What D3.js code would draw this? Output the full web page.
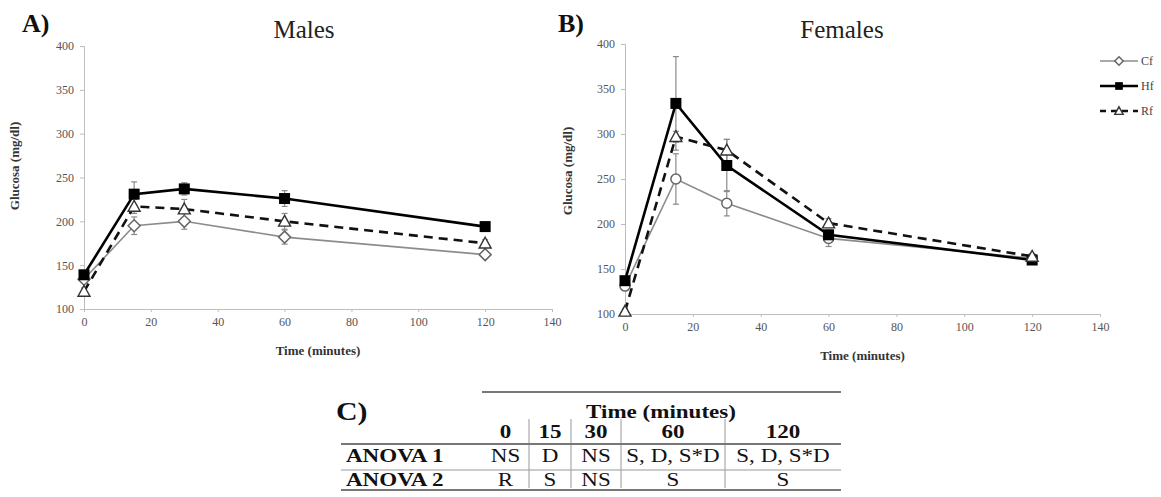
<!DOCTYPE html>
<html>
<head>
<meta charset="utf-8">
<script src="https://cdn.jsdelivr.net/npm/d3@7"></script>
<style>
  body { margin: 0; background: #fff; }
  svg, svg text { font-family: "Liberation Serif", "Times New Roman", Times, serif !important; }
</style>
</head>
<body>
<svg id="chart" width="1161" height="497"></svg>
<script>
// sampling times (minutes)
const times = [0, 15, 30, 60, 120];

// Males (panel A)
const maleCf = [134, 195, 200, 182, 162];
const maleHf = [139, 231, 237, 226, 194];
const maleRf = [120, 217, 214, 200, 175];
const maleCfErr = [3, 10, 9, 8, 3];
const maleHfErr = [5, 14, 7, 9, 3];
const maleRfErr = [4, 8, 11, 9, 4];

// Females (panel B)
const femaleCf = [131, 250, 223, 184, 162];
const femaleHf = [137, 334, 265, 188, 160];
const femaleRf = [103, 297, 282, 201, 164];
const femaleCfErr = [3, 28, 14, 9, 3];
const femaleHfErr = [4, 52, 29, 5, 3];
const femaleRfErr = [3, 6, 12, 5, 3];

const groups = ["Cf", "Hf", "Rf"];
const xTicks = [0, 20, 40, 60, 80, 100, 120, 140];
const yTicks = [100, 150, 200, 250, 300, 350, 400];

// table C
const tableTimes = ["0", "15", "30", "60", "120"];
const anovaRows = ["ANOVA 1", "ANOVA 2"];
const anova1 = ["NS", "D", "NS", "S, D, S*D", "S, D, S*D"];
const anova2 = ["R", "S", "NS", "S", "S"];

const svg = d3.select("#chart");

const style = {
  Cf: { stroke: "#8c8c8c", width: 1.6, dash: null },
  Hf: { stroke: "#000", width: 2.6, dash: null },
  Rf: { stroke: "#111", width: 2.6, dash: "9,6" }
};

// k scales the marker (legend uses smaller ones)
function marker(g, name, x, y, female, k) {
  k = k || 1;
  if (name === "Hf") {
    const s = 5.5 * k;
    g.append("rect").attr("x", x - s).attr("y", y - s).attr("width", 2 * s).attr("height", 2 * s)
      .attr("fill", "#000");
  } else if (name === "Rf") {
    const s = 6 * k;
    g.append("path").attr("d", `M${x},${y - s}L${x + s},${y + s * 0.8}L${x - s},${y + s * 0.8}Z`)
      .attr("fill", "#fff").attr("stroke", "#333").attr("stroke-width", 1.4);
  } else if (female) {
    g.append("circle").attr("cx", x).attr("cy", y).attr("r", 5 * k)
      .attr("fill", "#fff").attr("stroke", "#666").attr("stroke-width", 1.5);
  } else {
    const s = 6 * k;
    g.append("path").attr("d", `M${x},${y - s}L${x + s},${y}L${x},${y + s}L${x - s},${y}Z`)
      .attr("fill", "#fff").attr("stroke", "#666").attr("stroke-width", 1.5);
  }
}

function panel(opts) {
  const x = d3.scaleLinear().domain([0, 140]).range(opts.xr);
  const y = d3.scaleLinear().domain([100, 400]).range(opts.yr);
  const g = svg.append("g");

  const xa = g.append("g").attr("transform", `translate(0,${opts.yr[0]})`)
    .call(d3.axisBottom(x).tickValues(xTicks).tickSize(3).tickPadding(5));
  const ya = g.append("g").attr("transform", `translate(${opts.xr[0]},0)`)
    .call(d3.axisLeft(y).tickValues(yTicks).tickSize(4).tickPadding(6));
  [xa, ya].forEach(a => {
    a.attr("font-family", null);
    a.select(".domain").attr("stroke", "#bdbdbd");
    a.selectAll(".tick line").attr("stroke", "#bdbdbd");
    a.selectAll(".tick text").attr("fill", "#555").style("font-size", "12px");
  });

  g.append("text").attr("x", d3.mean(opts.xr)).attr("y", opts.yr[0] + 46)
    .attr("text-anchor", "middle").attr("font-weight", "bold").attr("font-size", 13)
    .attr("fill", "#333").text("Time (minutes)");
  g.append("text").attr("transform", `translate(${opts.ylx},${opts.yly}) rotate(-90)`)
    .attr("text-anchor", "middle").attr("font-weight", "bold").attr("font-size", 13)
    .attr("fill", "#333").text("Glucosa (mg/dl)");
  g.append("text").attr("x", opts.tx).attr("y", 38).attr("text-anchor", "middle")
    .attr("font-size", 25).attr("fill", "#222").text(opts.title);
  g.append("text").attr("x", opts.lx).attr("y", 32).attr("font-weight", "bold")
    .attr("font-size", 26).attr("fill", "#111").text(opts.letter);

  const series = groups.map((name, i) => ({ name, vals: opts.vals[i], errs: opts.errs[i] }));

  // error bars
  series.forEach(s => {
    times.forEach((t, j) => {
      const cx = x(t), lo = y(s.vals[j] - s.errs[j]), hi = y(s.vals[j] + s.errs[j]);
      g.append("line").attr("x1", cx).attr("x2", cx).attr("y1", lo).attr("y2", hi)
        .attr("stroke", "#8a8a8a").attr("stroke-width", 1.2);
      [lo, hi].forEach(v => g.append("line").attr("x1", cx - 3).attr("x2", cx + 3)
        .attr("y1", v).attr("y2", v).attr("stroke", "#8a8a8a").attr("stroke-width", 1.2));
    });
  });

  const line = d3.line().x((d, j) => x(times[j])).y(d => y(d));
  series.forEach(s => {
    g.append("path").datum(s.vals).attr("d", line).attr("fill", "none")
      .attr("stroke", style[s.name].stroke).attr("stroke-width", style[s.name].width)
      .attr("stroke-dasharray", style[s.name].dash);
  });
  series.forEach(s => {
    times.forEach((t, j) => marker(g, s.name, x(t), y(s.vals[j]), opts.female));
  });
}

panel({ xr: [84, 552], yr: [309, 46], title: "Males", tx: 304, letter: "A)", lx: 22,
  ylx: 19, yly: 166, female: false,
  vals: [maleCf, maleHf, maleRf], errs: [maleCfErr, maleHfErr, maleRfErr] });
panel({ xr: [625, 1100], yr: [314, 44], title: "Females", tx: 842, letter: "B)", lx: 558,
  ylx: 572, yly: 171, female: true,
  vals: [femaleCf, femaleHf, femaleRf], errs: [femaleCfErr, femaleHfErr, femaleRfErr] });

// legend
const leg = svg.append("g");
groups.forEach((name, i) => {
  const ly = 61 + i * 25;
  leg.append("line").attr("x1", 1100).attr("x2", 1138).attr("y1", ly).attr("y2", ly)
    .attr("stroke", style[name].stroke).attr("stroke-width", style[name].width)
    .attr("stroke-dasharray", name === "Rf" ? "6,5" : null);
  marker(leg, name, 1119, ly, false, 0.7);
  leg.append("text").attr("x", 1141).attr("y", ly + 4).attr("font-size", 12)
    .attr("fill", "#444").text(name);
});

// table C
const tbl = svg.append("g");
const colEdges = [482, 529, 571, 621, 725, 841];
const colX = tableTimes.map((d, i) => (colEdges[i] + colEdges[i + 1]) / 2);
function cell(txt, cx, cy, bold, anchor) {
  tbl.append("text").attr("transform", `translate(${cx},${cy}) scale(1.28,1)`)
    .attr("text-anchor", anchor || "middle").attr("font-size", 18)
    .attr("font-weight", bold ? "bold" : "normal").attr("fill", "#111").text(txt);
}
tbl.append("line").attr("x1", 482).attr("x2", 841).attr("y1", 392).attr("y2", 392)
  .attr("stroke", "#777").attr("stroke-width", 2.2);
tbl.append("text").attr("transform", "translate(336,420) scale(1.15,1)")
  .attr("font-size", 26).attr("font-weight", "bold").attr("fill", "#111").text("C)");
cell("Time (minutes)", 661, 418, true);
tableTimes.forEach((t, i) => cell(t, colX[i], 438, true));
[anova1, anova2].forEach((row, r) => {
  const ry = 462 + r * 24;
  cell(anovaRows[r], 346, ry, true, "start");
  row.forEach((v, i) => cell(v, colX[i], ry, false));
});
colEdges.slice(1, 5).forEach(e => tbl.append("line").attr("x1", e).attr("x2", e)
  .attr("y1", 419).attr("y2", 488).attr("stroke", "#aaa").attr("stroke-width", 1.2));
tbl.append("line").attr("x1", 341).attr("x2", 841).attr("y1", 444).attr("y2", 444)
  .attr("stroke", "#777").attr("stroke-width", 2.2);
tbl.append("line").attr("x1", 341).attr("x2", 841).attr("y1", 470).attr("y2", 470)
  .attr("stroke", "#999").attr("stroke-width", 1.2);
tbl.append("line").attr("x1", 341).attr("x2", 841).attr("y1", 490).attr("y2", 490)
  .attr("stroke", "#777").attr("stroke-width", 2.2);
</script>
</body>
</html>
